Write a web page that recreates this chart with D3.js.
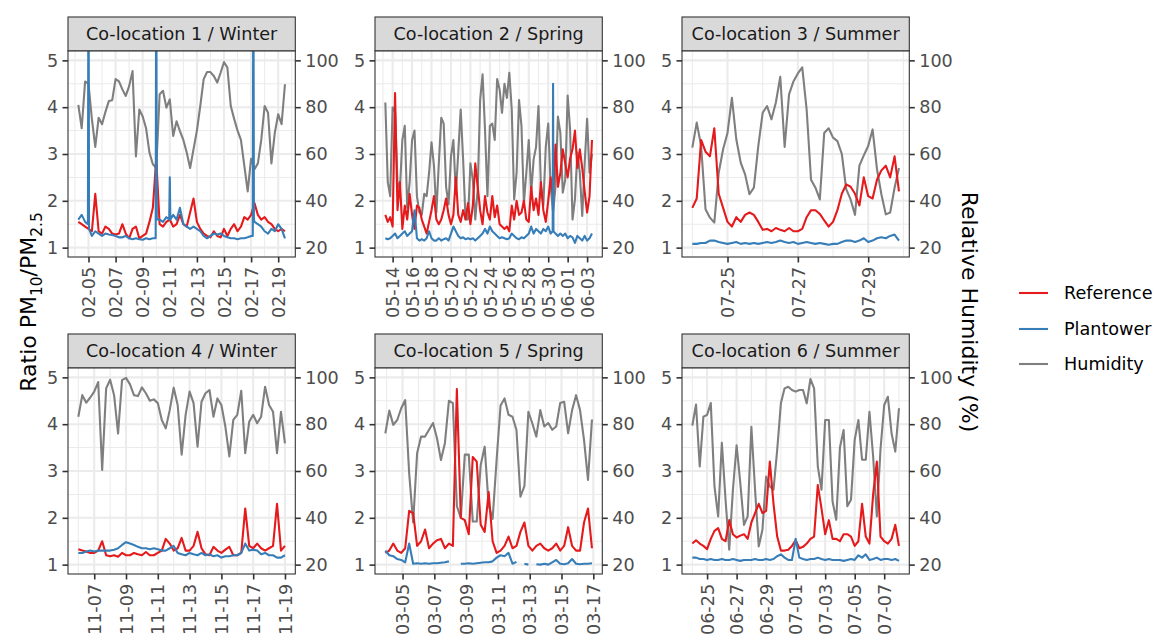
<!DOCTYPE html>
<html>
<head>
<meta charset="utf-8">
<title>PM10/PM2.5 ratio and relative humidity by co-location</title>
<script src="https://d3js.org/d3.v7.min.js"></script>
<style>
  body { margin: 0; background: #fff; }
  svg { display: block; font-family: 'DejaVu Sans', sans-serif; }
  .grid-major { stroke: #ebebeb; stroke-width: 2.1; }
  .grid-minor { stroke: #ebebeb; stroke-width: 1.05; }
  .axis text { fill: #4d4d4d; font-size: 17.6px; font-family: 'DejaVu Sans', sans-serif; }
  .axis line { stroke: #333; stroke-width: 1.6; }
  .axis path { display: none; }
  .strip rect { fill: #d9d9d9; stroke: #333; stroke-width: 1.1; }
  .strip text { fill: #1a1a1a; font-size: 17.6px; }
  .border { fill: none; stroke: #333; stroke-width: 1.1; }
  .series { fill: none; stroke-width: 2.1; stroke-linejoin: round; }
  .title { font-size: 22px; fill: #000; }
  .legend text { font-size: 17.6px; fill: #000; }
</style>
</head>
<body>
<svg width="1157" height="636"></svg>
<script>
// ---- data ----
const panelTitles = ["Co-location 1 / Winter", "Co-location 2 / Spring", "Co-location 3 / Summer",
                     "Co-location 4 / Winter", "Co-location 5 / Spring", "Co-location 6 / Summer"];
// first timestamp and sampling step (hours) of each panel's series
const panelStarts = ["2021-02-04T06:00", "2021-05-13T06:00", "2021-07-24T00:00",
                     "2021-11-06T00:00", "2021-03-03T22:00", "2021-06-24T00:00"];
const panelSteps = [6, 6, 3, 6, 6, 6];

const panelTicks = [
  ["2021-02-05", "2021-02-07", "2021-02-09", "2021-02-11", "2021-02-13", "2021-02-15", "2021-02-17", "2021-02-19"],
  ["2021-05-14", "2021-05-16", "2021-05-18", "2021-05-20", "2021-05-22", "2021-05-24", "2021-05-26", "2021-05-28", "2021-05-30", "2021-06-01", "2021-06-03"],
  ["2021-07-25", "2021-07-27", "2021-07-29"],
  ["2021-11-07", "2021-11-09", "2021-11-11", "2021-11-13", "2021-11-15", "2021-11-17", "2021-11-19"],
  ["2021-03-05", "2021-03-07", "2021-03-09", "2021-03-11", "2021-03-13", "2021-03-15", "2021-03-17"],
  ["2021-06-25", "2021-06-27", "2021-06-29", "2021-07-01", "2021-07-03", "2021-07-05", "2021-07-07"]
];

const yTicks = [1, 2, 3, 4, 5];
const seriesNames = ["Reference", "Plantower", "Humidity"];
const seriesColors = ["#e41a1c", "#377eb8", "#7f7f7f"];

// Co-location 1
const p1Ref = [1.55,1.5,1.45,1.4,1.35,2.15,1.35,1.3,1.45,1.4,1.3,1.28,1.3,1.5,1.3,1.2,1.4,1.45,1.2,1.25,
  1.3,1.55,1.85,2.9,1.5,1.45,1.55,1.6,1.45,1.5,1.7,1.5,1.45,1.75,2.05,1.55,1.4,1.3,1.25,1.22,
  1.35,1.25,1.22,1.4,1.25,1.4,1.5,1.35,1.45,1.65,1.6,1.7,1.95,1.7,1.6,1.65,1.55,1.5,1.4,1.35,1.4,1.35];
const p1Pt = [1.6,1.7,1.55,8,1.25,1.35,1.3,1.25,1.3,1.28,1.27,1.25,1.22,1.22,1.25,1.2,1.18,1.2,1.18,1.17,
  1.2,1.18,1.2,8,1.6,1.55,1.65,2.5,1.7,1.6,1.85,1.5,1.45,1.4,1.45,1.4,1.35,1.25,1.2,1.25,
  1.3,1.28,1.3,1.25,1.22,1.2,1.2,1.18,1.2,1.2,1.22,1.25,1.55,1.5,1.45,1.35,1.3,1.4,1.35,1.5,1.4,1.2];
const p1Rh = [81,71,91,90,75,63,75.5,72.7,78,82.6,83,92,91,87.6,84.8,89,95.4,59,79,76,
  71,60.6,55.6,54,85.5,87,79.8,83.3,67.7,74,69.8,66,60.6,54,62,70,80.5,92,95,95,
  93.3,90.5,94.7,99.3,96.9,80.5,75,70,66,55,44,58,53.5,56,66,80.5,77.6,56,69,77,72.7,89.8];
const p1PtExtra = [["2021-02-04T23:00",1.5],["2021-02-05T01:00",1.4],["2021-02-09T23:00",1.2],["2021-02-10T01:00",1.6],
  ["2021-02-10T23:00",1.6],["2021-02-11T01:00",1.6],["2021-02-17T03:00",1.25],["2021-02-17T04:00",8],["2021-02-17T05:00",1.6]];

// Co-location 2
const p2Ref = [1.7,1.55,1.65,1.45,4.3,1.8,2.4,1.4,1.9,1.6,2.15,1.7,1.4,1.9,1.85,1.6,1.45,1.3,1.55,1.8,
  2.1,1.6,1.5,1.6,1.8,2.05,1.7,1.5,1.7,2.5,1.7,1.55,1.8,1.6,1.95,1.5,1.9,2.8,2.3,1.8,
  1.5,2.1,1.75,1.6,2.1,1.65,1.9,1.5,1.45,1.4,1.45,1.35,1.9,1.6,2.0,1.7,1.75,2.0,1.6,1.55,
  2.3,1.8,2.05,1.7,2.4,1.8,1.55,2.0,2.5,2.1,3.2,2.3,2.6,3.1,2.8,2.5,2.9,3.1,3.5,2.7,
  3.1,2.7,2.2,1.75,2.1,3.3];
const p2Pt = [1.2,1.18,1.2,1.25,1.3,1.2,1.25,1.3,1.35,1.25,1.3,1.35,1.8,1.2,1.15,1.18,1.15,1.2,1.35,1.2,
  1.15,1.15,1.2,1.15,1.18,1.2,1.15,1.3,1.45,1.35,1.25,1.2,1.22,1.18,1.2,1.18,1.2,1.15,1.2,1.25,
  1.3,1.4,1.3,1.45,1.35,1.3,1.25,1.2,1.22,1.2,1.18,1.2,1.3,1.25,1.2,1.18,1.22,1.2,1.25,1.3,
  1.45,1.3,1.4,1.35,1.3,1.4,1.35,1.45,1.3,4.5,1.3,1.25,1.3,1.25,1.3,1.2,1.25,1.22,1.1,1.25,
  1.2,1.15,1.25,1.15,1.2,1.3];
const p2Rh = [82,48,42,80,78,48,45,66,72,37,48,66,70,42,35,34,43,42,52,65,
  55,35,56,75.5,73,46,38.5,59,66,43,60.6,79,57.7,32,32,56,49,32,45,83,
  94,70.5,42,72,73,66,92,87.6,77.6,90,84,94.7,79,40.6,52,83,72,39,52,66,
  43.5,57.7,63,80.5,46,38,63,73,46,35,46,76,69,43.5,49,85,70.5,32,40.6,60.6,
  52,33.5,56,75,52,60];
const p2PtExtra = [["2021-05-30T11:00",1.35],["2021-05-30T13:00",1.35]];

// Co-location 3
const p3Ref = [1.85,2.05,3.3,3.05,2.95,3.55,2.15,1.85,1.55,1.45,1.65,1.55,1.7,1.75,1.7,1.55,1.38,1.4,1.35,1.42,
  1.38,1.35,1.42,1.35,1.35,1.4,1.65,1.8,1.8,1.72,1.58,1.45,1.55,1.8,2.15,2.35,2.3,2.15,1.9,2.5,
  2.1,2.05,2.45,2.65,2.75,2.5,2.95,2.2];
const p3Pt = [1.08,1.08,1.1,1.1,1.15,1.15,1.12,1.1,1.08,1.1,1.12,1.08,1.1,1.08,1.1,1.08,1.1,1.12,1.1,1.12,
  1.15,1.12,1.1,1.12,1.08,1.1,1.12,1.1,1.08,1.1,1.08,1.06,1.08,1.08,1.12,1.15,1.15,1.12,1.15,1.2,
  1.12,1.15,1.2,1.22,1.2,1.25,1.28,1.15];
const p3Rh = [62.7,73.4,63.4,36.4,32.8,30.7,52,62,69,84,66.3,56.3,51.3,42.8,45.6,63.4,77.6,80.5,74.8,82,
  93,63,85.5,91,94.4,97,79,49,45.6,40.6,69,71,67,65.5,60,45,40.6,34,55,59.4,
  63.4,70.5,53.5,42.8,34.2,35,45.6,54];

// Co-location 4
const p4Ref = [1.33,1.3,1.28,1.25,1.25,1.3,1.5,1.2,1.18,1.2,1.17,1.25,1.2,1.2,1.25,1.22,1.2,1.27,1.2,1.2,
  1.25,1.3,1.55,1.45,1.3,1.35,1.57,1.3,1.3,1.4,1.7,1.35,1.22,1.2,1.38,1.3,1.25,1.32,1.38,1.2,
  1.2,1.25,2.2,1.4,1.35,1.45,1.35,1.3,1.35,1.4,2.3,1.3,1.4];
const p4Pt = [1.25,1.25,1.28,1.3,1.28,1.3,1.3,1.3,1.3,1.32,1.35,1.42,1.48,1.45,1.42,1.38,1.35,1.35,1.33,1.35,
  1.33,1.3,1.3,1.35,1.4,1.25,1.22,1.2,1.25,1.22,1.2,1.25,1.2,1.22,1.18,1.2,1.15,1.18,1.18,1.2,
  1.2,1.25,1.45,1.3,1.32,1.3,1.22,1.25,1.2,1.2,1.15,1.15,1.2];
const p4Rh = [83.2,92.4,89.2,91.4,93.9,98,60.5,95.3,99,92.4,76,98.8,99.8,97,92.4,92,95.7,93.2,90,90.6,
  89,81.8,78.2,86,95.6,88.2,67,84,93.9,89,70.4,89.6,93.2,94.6,83.2,91,88.2,79,66.2,81.8,
  84,94.3,67.6,81,84,80.4,83.2,96,88.2,85.3,67.6,85.3,71.8];

// Co-location 5 (null = no Plantower reading)
const p5Ref = [1.25,1.3,1.45,1.3,1.25,1.35,2.15,2.1,1.4,1.5,1.75,1.35,1.45,1.52,1.55,1.35,1.45,1.4,4.75,2.0,
  1.95,1.65,3.3,3.2,1.85,1.7,2.55,1.5,1.25,1.3,1.4,1.6,1.35,1.4,1.7,1.9,1.4,1.3,1.4,1.45,
  1.35,1.3,1.35,1.45,1.3,1.4,1.8,1.4,1.3,1.3,1.9,2.2,1.35];
const p5Pt = [1.3,1.2,1.18,1.12,1.1,1.05,1.45,1.02,1.03,1.02,1.03,1.02,1.03,1.03,1.04,1.05,1.07,null,null,1.02,
  1.02,1.03,1.02,1.03,1.04,1.05,1.05,1.07,1.15,1.2,1.18,1.25,1.02,1.06,null,1.02,1.0,null,1.01,1.0,
  1.02,1.0,1.05,1.1,1.02,1.01,1.03,1.12,1.02,1.01,1.02,1.02,1.03];
const p5Rh = [76.1,85.8,79.7,81.8,86.8,90.3,59,38,67.6,74.7,74.7,77.6,80.5,74,64.7,72,90,89,45,40,
  67,67,38.4,38.4,62.6,70.4,45.3,39.5,64.7,88,91,84,83.2,77.5,49,53.5,85.3,80.3,74.7,86,
  79,80.5,77.6,79,89,89.6,76.1,86,92.4,86,73.3,56.2,82];

// Co-location 6
const p6Ref = [1.45,1.52,1.45,1.4,1.33,1.55,1.72,1.78,1.55,1.5,1.95,1.65,1.58,1.62,1.65,1.55,1.9,2.1,2.3,2.1,
  2.15,3.2,2.3,1.6,1.3,1.3,1.32,1.4,1.52,1.35,1.38,1.45,1.55,1.6,2.7,2.2,1.65,1.95,1.55,1.55,
  1.5,1.65,1.65,1.6,1.4,1.5,2.3,1.6,1.45,2.5,3.2,1.6,1.5,1.45,1.55,1.85,1.4];
const p6Pt = [1.15,1.15,1.12,1.12,1.1,1.12,1.1,1.1,1.12,1.1,1.1,1.12,1.1,1.08,1.1,1.1,1.1,1.12,1.1,1.1,
  1.12,1.1,1.12,1.18,1.22,1.15,1.1,1.1,1.55,1.15,1.12,1.1,1.12,1.12,1.15,1.12,1.1,1.12,1.1,1.1,
  1.1,1.08,1.1,1.12,1.1,1.2,1.15,1.22,1.1,1.12,1.15,1.1,1.12,1.12,1.1,1.12,1.08];
const p6Rh = [79.4,88.4,61.9,83.2,84,89,53.4,40.6,72,47.7,26.4,52,71,54.8,37,40.6,78.9,52,27.8,34.9,
  57.6,53.4,52,69,88.9,95.3,96,94.6,93.9,94.6,94.6,88.9,99.3,95.3,62,52,81.8,81.8,47,39.2,
  70,77.5,45,47.7,73.3,81.8,64.8,64.8,85.3,66.2,40.6,69.4,88.2,91.7,76,68.3,86.8];

const refData = [p1Ref, p2Ref, p3Ref, p4Ref, p5Ref, p6Ref];
const ptData = [p1Pt, p2Pt, p3Pt, p4Pt, p5Pt, p6Pt];
const rhData = [p1Rh, p2Rh, p3Rh, p4Rh, p5Rh, p6Rh];
const ptExtra = [p1PtExtra, p2PtExtra, [], [], [], []];

// ---- layout ----
const colLeft = [68, 375, 682];
const rowTop = [17, 334];
const panelW = 227.3, panelH = 206, stripH = 34;
const tickLen = 5.5, tickPad = 4.4;

const parse = d3.timeParse("%Y-%m-%dT%H:%M");
const parseDay = d3.timeParse("%Y-%m-%d");
const fmt = d3.timeFormat("%m-%d");

function buildSeries(start, step, values, extra) {
  const t0 = parse(start);
  const pts = values.map((v, k) => ({ t: d3.timeHour.offset(t0, k * step), v: v }));
  (extra || []).forEach(([s, v]) => pts.push({ t: parse(s), v: v }));
  return pts.sort((a, b) => a.t - b.t);
}

const svg = d3.select("svg");
const defs = svg.append("defs");

const y = d3.scaleLinear().domain([0.8, 5.2]).range([panelH, 0]);

panelTitles.forEach((title, i) => {
  const col = i % 3, row = Math.floor(i / 3);
  const px = colLeft[col], py = rowTop[row] + stripH;

  const ref = buildSeries(panelStarts[i], panelSteps[i], refData[i]);
  const pt = buildSeries(panelStarts[i], panelSteps[i], ptData[i], ptExtra[i]);
  const rh = buildSeries(panelStarts[i], panelSteps[i], rhData[i]);

  const ext = d3.extent(ref.concat(pt, rh), d => d.t);
  const pad = (ext[1] - ext[0]) * 0.05;
  const x = d3.scaleTime()
      .domain([new Date(+ext[0] - pad), new Date(+ext[1] + pad)])
      .range([0, panelW]);

  const ticks = panelTicks[i].map(parseDay);
  const half = (ticks[1] - ticks[0]) / 2;
  const minorX = [new Date(+ticks[0] - half)].concat(ticks.map(t => new Date(+t + half)))
      .filter(t => t >= x.domain()[0] && t <= x.domain()[1]);
  const minorY = [1.5, 2.5, 3.5, 4.5];

  // strip
  const strip = svg.append("g").attr("class", "strip")
      .attr("transform", `translate(${px},${rowTop[row]})`);
  strip.append("rect").attr("width", panelW).attr("height", stripH);
  strip.append("text")
      .attr("x", panelW / 2).attr("y", stripH / 2).attr("dy", "0.35em")
      .attr("text-anchor", "middle")
      .text(title);

  const g = svg.append("g").attr("transform", `translate(${px},${py})`);
  g.append("rect").attr("width", panelW).attr("height", panelH).attr("fill", "#fff");

  g.selectAll(".mx").data(minorX).enter().append("line")
      .attr("class", "grid-minor")
      .attr("x1", d => x(d)).attr("x2", d => x(d)).attr("y1", 0).attr("y2", panelH);
  g.selectAll(".my").data(minorY).enter().append("line")
      .attr("class", "grid-minor")
      .attr("y1", d => y(d)).attr("y2", d => y(d)).attr("x1", 0).attr("x2", panelW);
  g.selectAll(".gx").data(ticks).enter().append("line")
      .attr("class", "grid-major")
      .attr("x1", d => x(d)).attr("x2", d => x(d)).attr("y1", 0).attr("y2", panelH);
  g.selectAll(".gy").data(yTicks).enter().append("line")
      .attr("class", "grid-major")
      .attr("y1", d => y(d)).attr("y2", d => y(d)).attr("x1", 0).attr("x2", panelW);

  // clipped data lines
  defs.append("clipPath").attr("id", "clip" + i)
    .append("rect").attr("width", panelW).attr("height", panelH);
  const lines = g.append("g").attr("clip-path", `url(#clip${i})`);

  const ratioLine = d3.line().defined(d => d.v != null).x(d => x(d.t)).y(d => y(d.v));
  const rhLine = d3.line().defined(d => d.v != null).x(d => x(d.t)).y(d => y(d.v / 20));

  lines.append("path").attr("class", "series").attr("stroke", seriesColors[2]).attr("d", rhLine(rh));
  lines.append("path").attr("class", "series").attr("stroke", seriesColors[0]).attr("d", ratioLine(ref));
  lines.append("path").attr("class", "series").attr("stroke", seriesColors[1]).attr("d", ratioLine(pt));

  g.append("rect").attr("class", "border").attr("width", panelW).attr("height", panelH);

  // axes
  g.append("g").attr("class", "axis")
      .call(d3.axisLeft(y).tickValues(yTicks).tickSize(tickLen).tickPadding(tickPad).tickFormat(d3.format("d")));
  g.append("g").attr("class", "axis").attr("transform", `translate(${panelW},0)`)
      .call(d3.axisRight(y).tickValues(yTicks).tickSize(tickLen).tickPadding(tickPad).tickFormat(d => d * 20));
  const xa = g.append("g").attr("class", "axis").attr("transform", `translate(0,${panelH})`)
      .call(d3.axisBottom(x).tickValues(ticks).tickSize(tickLen).tickPadding(tickPad).tickFormat(fmt));
  xa.selectAll("text")
      .attr("transform", "rotate(-90)")
      .attr("text-anchor", "end")
      .attr("x", -(tickLen + tickPad))
      .attr("y", 0)
      .attr("dy", "0.35em");
});

// axis titles
const lt = svg.append("text").attr("class", "title")
    .attr("transform", "translate(36,302) rotate(-90)")
    .attr("text-anchor", "middle");
lt.append("tspan").text("Ratio PM");
lt.append("tspan").attr("font-size", "15.4px").attr("dy", 6).text("10");
lt.append("tspan").attr("dy", -6).text("/PM");
lt.append("tspan").attr("font-size", "15.4px").attr("dy", 6).text("2.5");

svg.append("text").attr("class", "title")
    .attr("transform", "translate(962,312) rotate(90)")
    .attr("text-anchor", "middle")
    .text("Relative Humidity (%)");

// legend
const legend = svg.append("g").attr("class", "legend");
const legY = [293, 329, 364];
seriesNames.forEach((name, k) => {
  legend.append("line")
      .attr("x1", 1019).attr("x2", 1048).attr("y1", legY[k]).attr("y2", legY[k])
      .attr("stroke", seriesColors[k]).attr("stroke-width", 2.1);
  legend.append("text")
      .attr("x", 1064).attr("y", legY[k]).attr("dy", "0.35em")
      .text(name);
});
</script>
</body>
</html>
